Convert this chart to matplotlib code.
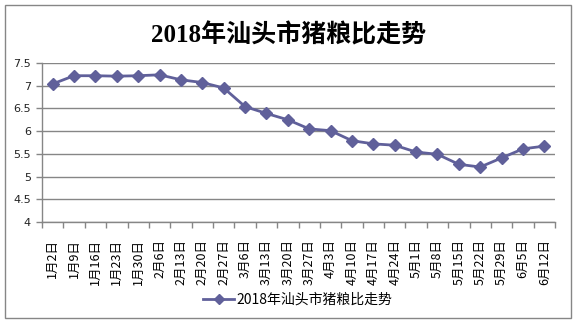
import matplotlib
matplotlib.use("Agg")
import matplotlib.pyplot as plt
from matplotlib.patches import Rectangle
import numpy as np

plt.rcParams['font.family'] = ['Noto Sans CJK SC', 'DejaVu Sans']

title = "2018年汕头市猪粮比走势"
series_name = "2018年汕头市猪粮比走势"
categories = ["1月2日", "1月9日", "1月16日", "1月23日", "1月30日", "2月6日", "2月13日",
              "2月20日", "2月27日", "3月6日", "3月13日", "3月20日", "3月27日", "4月3日",
              "4月10日", "4月17日", "4月24日", "5月1日", "5月8日", "5月15日", "5月22日",
              "5月29日", "6月5日", "6月12日"]
values = [7.04, 7.22, 7.22, 7.21, 7.22, 7.24, 7.13, 7.07, 6.95, 6.54, 6.39, 6.25,
          6.05, 6.01, 5.79, 5.72, 5.69, 5.54, 5.49, 5.27, 5.21, 5.41, 5.61, 5.67]
y_ticks = [4, 4.5, 5, 5.5, 6, 6.5, 7, 7.5]
y_tick_labels = ["4", "4.5", "5", "5.5", "6", "6.5", "7", "7.5"]

W, H = 577, 325
fig = plt.figure(figsize=(W / 100, H / 100), dpi=100)
fig.patch.set_facecolor('white')

# outer border
fig.patches.append(Rectangle((5 / W, 1 - 318 / H), 566 / W, 313 / H, transform=fig.transFigure,
                             fill=False, edgecolor='#868686', linewidth=1.0))

ax = fig.add_axes([42 / W, 1 - 222 / H, (555 - 42) / W, (222 - 63) / H])
color = '#60609A'
grid_c = '#868686'
x = np.arange(len(categories))
line, = ax.plot(x, values, color=color, linewidth=2.0, marker='D', markersize=6.5,
                markerfacecolor=color, markeredgecolor=color, label=series_name, zorder=3)

ax.set_xlim(-0.5, len(categories) - 0.5)
ax.set_ylim(4, 7.5)
ax.set_yticks(y_ticks)
ax.set_yticklabels(y_tick_labels, fontsize=8, color='#222222', family=['DejaVu Sans'])
ax.yaxis.grid(True, color=grid_c, linewidth=1.0)
ax.set_axisbelow(True)

ax.set_xticks(x)
ax.set_xticklabels(categories, rotation=90, fontsize=9, ha='center', va='top')
ax.set_xticks(np.arange(-0.5, len(categories), 1.0), minor=True)
ax.tick_params(axis='x', which='major', length=0, pad=12)
ax.tick_params(axis='x', which='minor', length=4, color=grid_c, width=1.0, direction='out')
ax.tick_params(axis='y', length=4, color=grid_c, width=1.0, direction='out', pad=4)

for s in ['top', 'right']:
    ax.spines[s].set_visible(False)
for s in ['left', 'bottom']:
    ax.spines[s].set_color(grid_c)
    ax.spines[s].set_linewidth(1.0)

fig.text(0.5, 1 - 35 / H, title, ha='center', va='center', fontsize=18, fontweight='bold',
         family=['Liberation Serif', 'Noto Sans CJK SC'])

fig.legend(handles=[line], loc='center', bbox_to_anchor=(298 / W, 1 - 300 / H), frameon=False,
           fontsize=10, handlelength=2.2, handletextpad=0.2, markerscale=0.8)

fig.savefig('out.png', dpi=100, facecolor='white')
